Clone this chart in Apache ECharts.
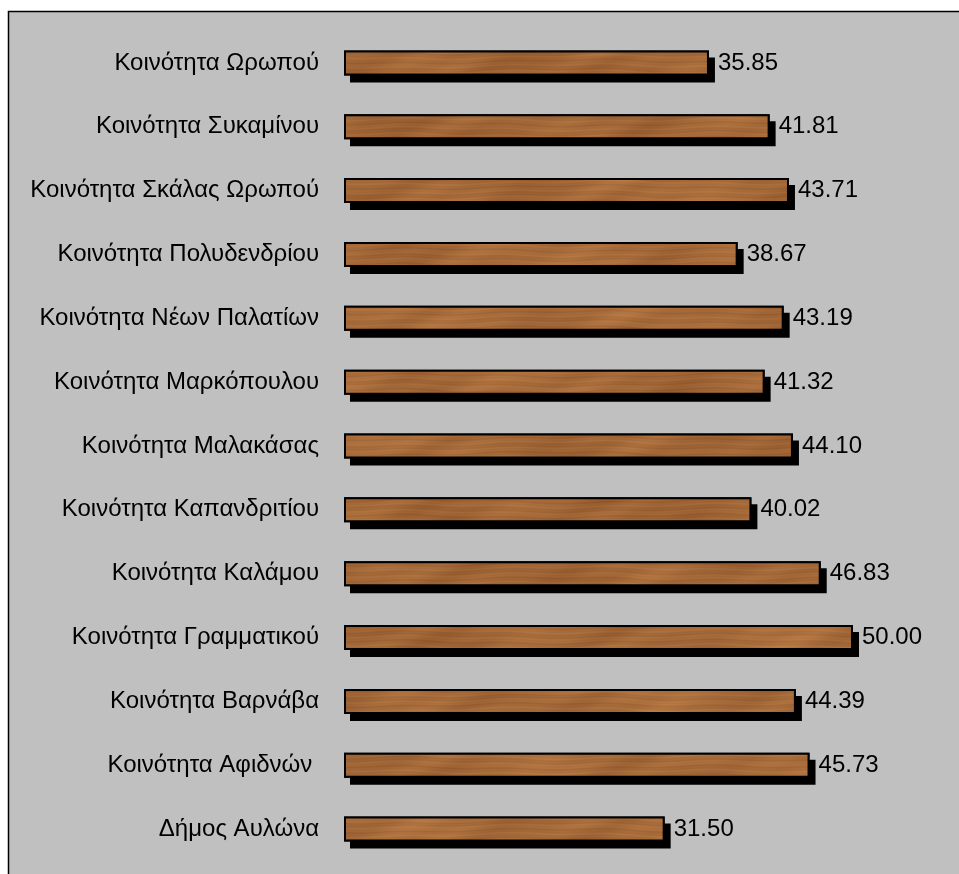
<!DOCTYPE html>
<html>
<head>
<meta charset="utf-8">
<script src="https://cdn.jsdelivr.net/npm/echarts@6/dist/echarts.min.js"></script>
<style>
html,body{margin:0;padding:0;background:#fff;}
#chart{width:959px;height:874px;}
</style>
</head>
<body>
<div id="chart"></div>
<script>
const categories = [
  "Κοινότητα Ωρωπού",
  "Κοινότητα Συκαμίνου",
  "Κοινότητα Σκάλας Ωρωπού",
  "Κοινότητα Πολυδενδρίου",
  "Κοινότητα Νέων Παλατίων",
  "Κοινότητα Μαρκόπουλου",
  "Κοινότητα Μαλακάσας",
  "Κοινότητα Καπανδριτίου",
  "Κοινότητα Καλάμου",
  "Κοινότητα Γραμματικού",
  "Κοινότητα Βαρνάβα",
  "Κοινότητα Αφιδνών ",
  "Δήμος Αυλώνα"
];
const values = [35.85, 41.81, 43.71, 38.67, 43.19, 41.32, 44.10, 40.02, 46.83, 50.00, 44.39, 45.73, 31.50];

// wood-like texture covering the whole canvas (styling only, deterministic)
function makeWood() {
  const W = 960, H = 880;
  const c = document.createElement('canvas');
  c.width = W; c.height = H;
  const g = c.getContext('2d');
  const img = g.createImageData(W, H);
  for (let y = 0; y < H; y++) {
    for (let x = 0; x < W; x++) {
      const t = y + 1.6 * Math.sin(x * 0.019 + y * 0.05) + 0.9 * Math.sin(x * 0.061 + 2.1);
      const grain = 0.22 * Math.sin(t * 0.8) + 0.14 * Math.sin(t * 2.1 + x * 0.004);
      const blotch = 0.4 * Math.sin(x * 0.037 + y * 0.021) * Math.cos(x * 0.011 + y * 0.07)
                   + 0.22 * Math.sin(x * 0.093 + y * 0.23) * Math.sin(x * 0.017 + 0.5)
                   + 0.15 * Math.sin(x * 0.0071 + y * 0.013);
      const v = grain + blotch;
      const i = (y * W + x) * 4;
      img.data[i]     = Math.max(0, Math.min(255, 163 + 22 * v));
      img.data[i + 1] = Math.max(0, Math.min(255, 104 + 19 * v));
      img.data[i + 2] = Math.max(0, Math.min(255, 56 + 14 * v));
      img.data[i + 3] = 255;
    }
  }
  g.putImageData(img, 0, 0);
  return c;
}

const FONT = 'Liberation Sans, Arial, sans-serif';
const chart = echarts.init(document.getElementById('chart'), null, {renderer: 'canvas'});
chart.setOption({
  backgroundColor: '#ffffff',
  animation: false,
  graphic: [{
    type: 'rect', z: -10, silent: true,
    shape: {x: 8.5, y: 11.5, width: 1000, height: 900},
    style: {fill: '#c0c0c0', stroke: '#000', lineWidth: 1.5}
  }],
  grid: {left: 344, top: 31, width: 509, height: 830, containLabel: false},
  xAxis: {type: 'value', min: 0, max: 50, show: false},
  yAxis: {
    type: 'category', data: categories, inverse: true,
    axisLine: {show: false}, axisTick: {show: false}, splitLine: {show: false},
    axisLabel: {margin: 25, color: '#000', fontSize: 24, fontFamily: FONT}
  },
  series: [{
    // black bar beneath, casting a hard offset shadow
    type: 'bar', data: values, barWidth: 25, silent: true,
    itemStyle: {
      color: '#000',
      shadowColor: '#000', shadowBlur: 0, shadowOffsetX: 6, shadowOffsetY: 7
    }
  }, {
    type: 'bar', data: values, barWidth: 25, barGap: '-100%',
    itemStyle: {
      color: {image: makeWood(), repeat: 'no-repeat'},
      borderColor: '#000', borderWidth: 2
    },
    label: {
      show: true, position: 'right', distance: 9,
      color: '#000', fontSize: 24, fontFamily: FONT,
      formatter: p => p.value.toFixed(2)
    }
  }]
});
</script>
</body>
</html>
